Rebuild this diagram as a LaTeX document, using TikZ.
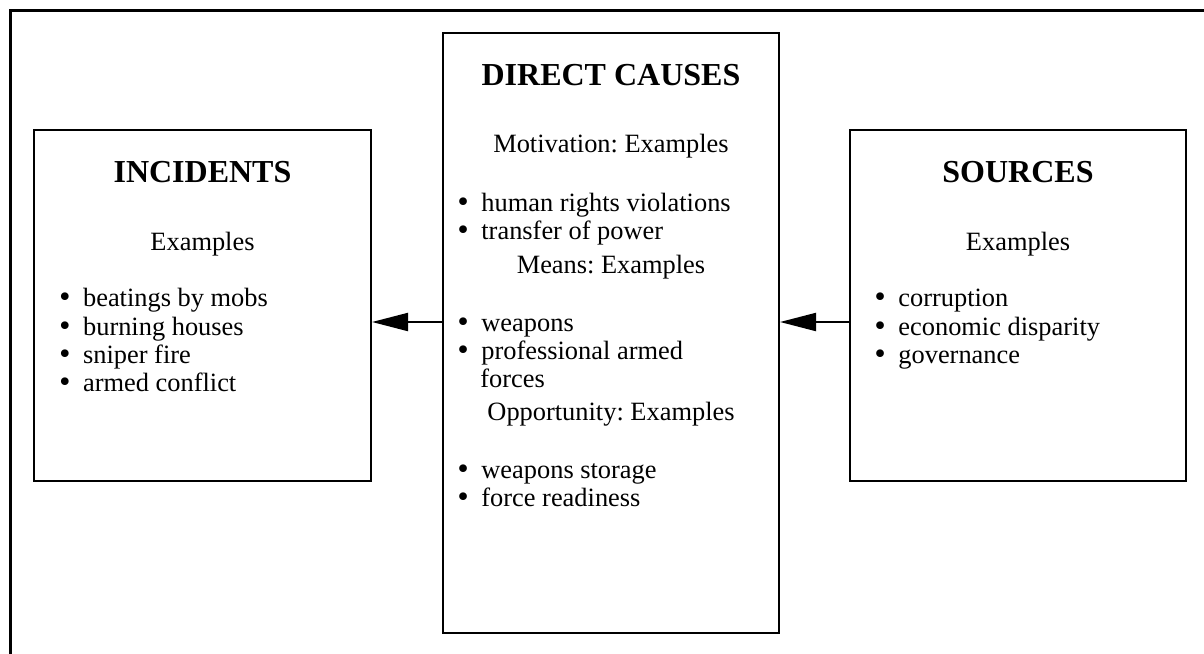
\documentclass[tikz,border=0pt]{standalone}
\usepackage{fontspec}
\setmainfont{Liberation Serif}
\newfontfamily\bulfont{DejaVu Sans}
\usetikzlibrary{arrows.meta}
\frenchspacing
\newcommand{\bigbul}{\llap{{\bulfont •}\hspace{5.2pt}}}
\begin{document}
\begin{tikzpicture}[x=0.5pt,y=-0.5pt,
 box/.style={draw, line width=1pt, inner sep=0, rectangle},
 ttl/.style={inner sep=0, anchor=base, font=\fontsize{16}{18}\selectfont\bfseries},
 txt/.style={inner sep=0, anchor=base, font=\fontsize{13.2}{15}\selectfont},
 itm/.style={inner sep=0, anchor=base west, font=\fontsize{13.2}{15}\selectfont},
 arr/.style={line width=1pt, -{Triangle[length=18pt,width=9pt]}},
 frame/.style={line width=1.5pt, line join=miter}]
\useasboundingbox (0,0) rectangle (1204,653);
% outer frame (top and left edges)
\coordinate (fa) at (10.5,660);
\coordinate (fb) at (10.5,10);
\coordinate (fc) at (1210,10);
\draw[frame] (fa) -- (fb) -- (fc);
% boxes
\node[box, minimum width=168.5pt, minimum height=175.5pt] (inc) at (202.5,305.5) {};
\node[box, minimum width=168pt, minimum height=300pt] (dc) at (611,333) {};
\node[box, minimum width=168pt, minimum height=175.5pt] (src) at (1018,305.5) {};
% arrows
\coordinate (ay) at (0,322);
\draw[arr] (dc.west |- ay) -- (inc.east |- ay);
\draw[arr] (src.west |- ay) -- (dc.east |- ay);
% INCIDENTS
\node[ttl] (incT) at (202.5,182) {INCIDENTS};
\node[txt] (incE) at (202.5,250) {Examples};
\node[itm] (inc1) at (82.7,306.7) {\bigbul beatings by mobs};
\node[itm] (inc2) at (82.7,335) {\bigbul burning houses};
\node[itm] (inc3) at (82.7,363.3) {\bigbul sniper fire};
\node[itm] (inc4) at (82.7,391.7) {\bigbul armed conflict};
% DIRECT CAUSES
\node[ttl] (dcT) at (611,85) {DIRECT CAUSES};
\node[txt] (dcM) at (611,152) {Motivation: Examples};
\node[itm] (dc1) at (481,211) {\bigbul human rights violations};
\node[itm] (dc2) at (481,239.5) {\bigbul transfer of power};
\node[txt] (dcN) at (611,273) {Means: Examples};
\node[itm] (dc3) at (481,331) {\bigbul weapons};
\node[itm] (dc4) at (481,359) {\bigbul professional armed};
\node[itm] (dc5) at (480,387) {forces};
\node[txt] (dcO) at (611,420) {Opportunity: Examples};
\node[itm] (dc6) at (481,478) {\bigbul weapons storage};
\node[itm] (dc7) at (481,506) {\bigbul force readiness};
% SOURCES
\node[ttl] (srcT) at (1018,182) {SOURCES};
\node[txt] (srcE) at (1018,250) {Examples};
\node[itm] (src1) at (898,306.7) {\bigbul corruption};
\node[itm] (src2) at (898,335) {\bigbul economic disparity};
\node[itm] (src3) at (898,363.3) {\bigbul governance};
\end{tikzpicture}
\end{document}
